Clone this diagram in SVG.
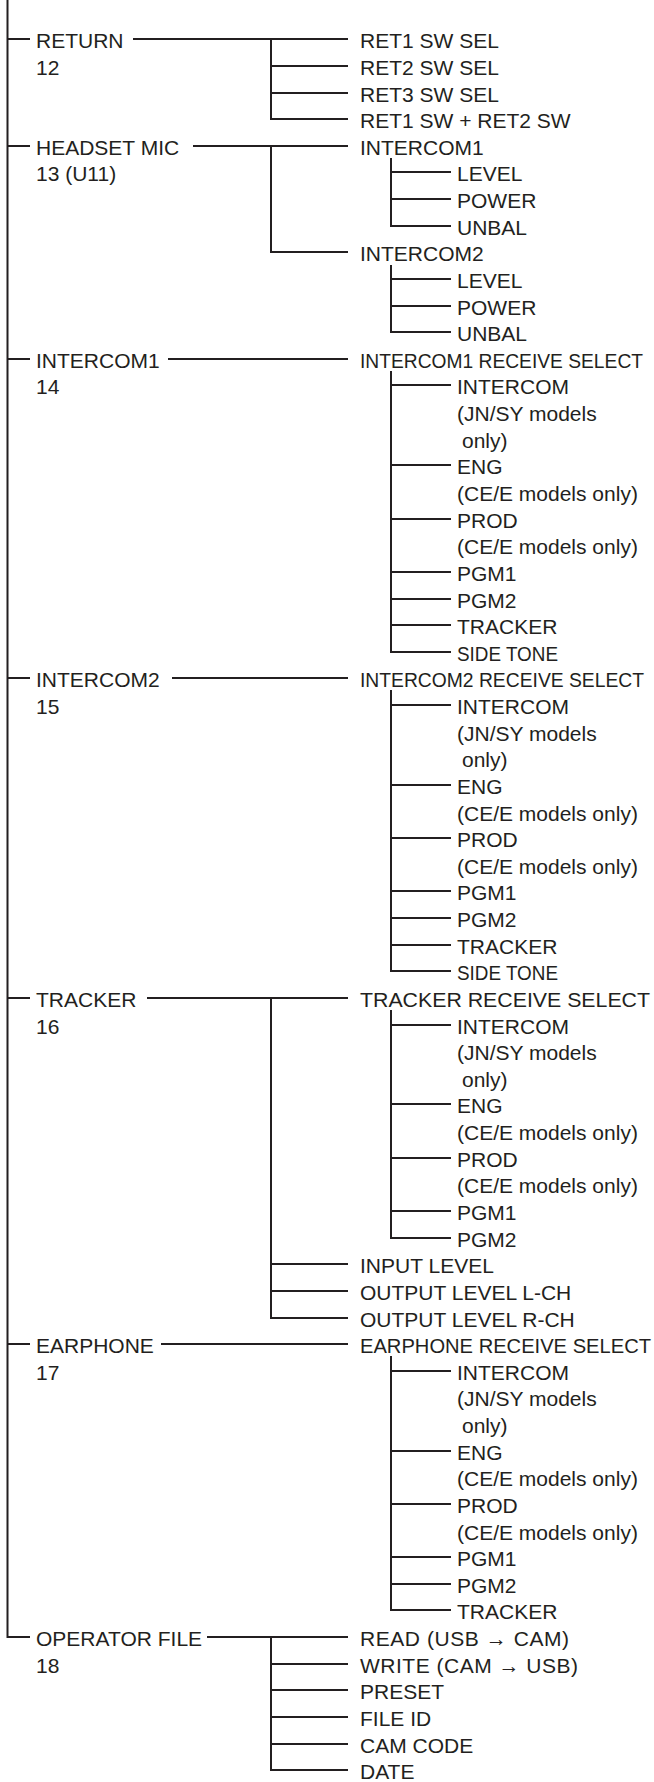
<svg xmlns="http://www.w3.org/2000/svg" width="654" height="1782" viewBox="0 0 654 1782">
<style>
text{font-family:"Liberation Sans",Arial,Helvetica,sans-serif;font-size:21px;fill:#231f20}
.rs{font-size:19.5px}
.c path{fill:none;stroke:#231f20;stroke-width:2;stroke-linejoin:miter;stroke-linecap:butt}
</style>
<rect width="654" height="1782" fill="#ffffff"/>
<g id="connectors" class="c">
<path d="M7.5 0V1637H30"/>
<path d="M7.5 39H30M7.5 146H30M7.5 359H30M7.5 678H30M7.5 998H30M7.5 1344H30"/>
<path d="M133 39H348M193 146H348M168 359H348M172 678H348M147 998H348M161 1344H348M207 1637H348"/>
<path d="M271 39V119H348M271 66H348M271 93H348"/>
<path d="M271 146V252H348"/>
<path d="M271 998V1318H348M271 1264H348M271 1291H348"/>
<path d="M271 1637V1770H348M271 1664H348M271 1690H348M271 1717H348M271 1744H348"/>
<path d="M391 158V226H451M391 172H451M391 199H451"/>
<path d="M391 265V332H451M391 279H451M391 306H451"/>
<path d="M391 371V652H451M391 385H451M391 465H451M391 519H451M391 572H451M391 599H451M391 625H451"/>
<path d="M391 690V971H451M391 705H451M391 785H451M391 838H451M391 891H451M391 918H451M391 945H451"/>
<path d="M391 1010V1238H451M391 1025H451M391 1104H451M391 1158H451M391 1211H451"/>
<path d="M391 1356V1610H451M391 1371H451M391 1451H451M391 1504H451M391 1557H451M391 1584H451"/>
</g>
<g id="n-return"><text x="36" y="47.5">RETURN</text><text x="36" y="74.5">12</text></g>
<g id="n-ret1"><text x="360" y="47.5">RET1 SW SEL</text></g>
<g id="n-ret2"><text x="360" y="74.5">RET2 SW SEL</text></g>
<g id="n-ret3"><text x="360" y="101.5">RET3 SW SEL</text></g>
<g id="n-ret12"><text x="360" y="127.5">RET1 SW + RET2 SW</text></g>
<g id="n-headset"><text x="36" y="154.5">HEADSET MIC</text><text x="36" y="180.5">13 (U11)</text></g>
<g id="n-hs-ic1"><text x="360" y="154.5">INTERCOM1</text></g>
<g id="n-hs-ic1-level"><text x="457" y="180.5">LEVEL</text></g>
<g id="n-hs-ic1-power"><text x="457" y="207.5">POWER</text></g>
<g id="n-hs-ic1-unbal"><text x="457" y="234.5">UNBAL</text></g>
<g id="n-hs-ic2"><text x="360" y="260.5">INTERCOM2</text></g>
<g id="n-hs-ic2-level"><text x="457" y="287.5">LEVEL</text></g>
<g id="n-hs-ic2-power"><text x="457" y="314.5">POWER</text></g>
<g id="n-hs-ic2-unbal"><text x="457" y="340.5">UNBAL</text></g>
<g id="n-intercom1"><text x="36" y="367.5">INTERCOM1</text><text x="36" y="393.5">14</text></g>
<g id="n-ic1-rs"><text class="rs" x="360" y="367.5" textLength="283" lengthAdjust="spacingAndGlyphs">INTERCOM1 RECEIVE SELECT</text></g>
<g id="n-ic1-intercom"><text x="457" y="393.5">INTERCOM</text><text x="457" y="420.5">(JN/SY models</text><text x="462" y="447.5">only)</text></g>
<g id="n-ic1-eng"><text x="457" y="473.5">ENG</text><text x="457" y="500.5">(CE/E models only)</text></g>
<g id="n-ic1-prod"><text x="457" y="527.5">PROD</text><text x="457" y="553.5">(CE/E models only)</text></g>
<g id="n-ic1-pgm1"><text x="457" y="580.5">PGM1</text></g>
<g id="n-ic1-pgm2"><text x="457" y="607.5">PGM2</text></g>
<g id="n-ic1-tracker"><text x="457" y="633.5">TRACKER</text></g>
<g id="n-ic1-side"><text x="457" y="660.5" textLength="101" lengthAdjust="spacingAndGlyphs">SIDE TONE</text></g>
<g id="n-intercom2"><text x="36" y="686.5">INTERCOM2</text><text x="36" y="713.5">15</text></g>
<g id="n-ic2-rs"><text class="rs" x="360" y="686.5" textLength="284" lengthAdjust="spacingAndGlyphs">INTERCOM2 RECEIVE SELECT</text></g>
<g id="n-ic2-intercom"><text x="457" y="713.5">INTERCOM</text><text x="457" y="740.5">(JN/SY models</text><text x="462" y="766.5">only)</text></g>
<g id="n-ic2-eng"><text x="457" y="793.5">ENG</text><text x="457" y="820.5">(CE/E models only)</text></g>
<g id="n-ic2-prod"><text x="457" y="846.5">PROD</text><text x="457" y="873.5">(CE/E models only)</text></g>
<g id="n-ic2-pgm1"><text x="457" y="899.5">PGM1</text></g>
<g id="n-ic2-pgm2"><text x="457" y="926.5">PGM2</text></g>
<g id="n-ic2-tracker"><text x="457" y="953.5">TRACKER</text></g>
<g id="n-ic2-side"><text x="457" y="979.5" textLength="101" lengthAdjust="spacingAndGlyphs">SIDE TONE</text></g>
<g id="n-tracker"><text x="36" y="1006.5">TRACKER</text><text x="36" y="1033.5">16</text></g>
<g id="n-tr-rs"><text x="360" y="1006.5" textLength="290" lengthAdjust="spacingAndGlyphs">TRACKER RECEIVE SELECT</text></g>
<g id="n-tr-intercom"><text x="457" y="1033.5">INTERCOM</text><text x="457" y="1059.5">(JN/SY models</text><text x="462" y="1086.5">only)</text></g>
<g id="n-tr-eng"><text x="457" y="1112.5">ENG</text><text x="457" y="1139.5">(CE/E models only)</text></g>
<g id="n-tr-prod"><text x="457" y="1166.5">PROD</text><text x="457" y="1192.5">(CE/E models only)</text></g>
<g id="n-tr-pgm1"><text x="457" y="1219.5">PGM1</text></g>
<g id="n-tr-pgm2"><text x="457" y="1246.5">PGM2</text></g>
<g id="n-tr-input"><text x="360" y="1272.5">INPUT LEVEL</text></g>
<g id="n-tr-outl"><text x="360" y="1299.5">OUTPUT LEVEL L-CH</text></g>
<g id="n-tr-outr"><text x="360" y="1326.5">OUTPUT LEVEL R-CH</text></g>
<g id="n-earphone"><text x="36" y="1352.5">EARPHONE</text><text x="36" y="1379.5">17</text></g>
<g id="n-ep-rs"><text x="360" y="1352.5" style="font-size:20px" textLength="291" lengthAdjust="spacingAndGlyphs">EARPHONE RECEIVE SELECT</text></g>
<g id="n-ep-intercom"><text x="457" y="1379.5">INTERCOM</text><text x="457" y="1405.5">(JN/SY models</text><text x="462" y="1432.5">only)</text></g>
<g id="n-ep-eng"><text x="457" y="1459.5">ENG</text><text x="457" y="1485.5">(CE/E models only)</text></g>
<g id="n-ep-prod"><text x="457" y="1512.5">PROD</text><text x="457" y="1539.5">(CE/E models only)</text></g>
<g id="n-ep-pgm1"><text x="457" y="1565.5">PGM1</text></g>
<g id="n-ep-pgm2"><text x="457" y="1592.5">PGM2</text></g>
<g id="n-ep-tracker"><text x="457" y="1618.5">TRACKER</text></g>
<g id="n-operator"><text x="36" y="1645.5">OPERATOR FILE</text><text x="36" y="1672.5">18</text></g>
<g id="n-op-read"><text x="360" y="1645.5" textLength="209" lengthAdjust="spacing">READ (USB → CAM)</text></g>
<g id="n-op-write"><text x="360" y="1672.5" textLength="218" lengthAdjust="spacing">WRITE (CAM → USB)</text></g>
<g id="n-op-preset"><text x="360" y="1698.5">PRESET</text></g>
<g id="n-op-fileid"><text x="360" y="1725.5">FILE ID</text></g>
<g id="n-op-camcode"><text x="360" y="1752.5">CAM CODE</text></g>
<g id="n-op-date"><text x="360" y="1778.5">DATE</text></g>
</svg>
